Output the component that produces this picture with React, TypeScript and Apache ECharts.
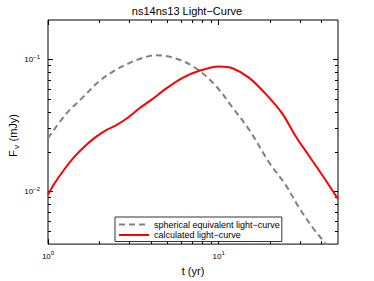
import React, { useEffect, useRef } from "react";
import * as echarts from "echarts";

const FONT = "'Liberation Sans', Arial, Helvetica, sans-serif";

const TITLE = "ns14ns13 Light\u2212Curve";
const X_NAME = "t (yr)";
const Y_NAME_MAIN = "F";
const Y_NAME_SUB = "\u03bd";
const Y_NAME_UNIT = "(mJy)";
const SERIES_NAMES = ["spherical equivalent light\u2212curve", "calculated light\u2212curve"];

const X_MIN = 1;
const X_MAX = 50;
const Y_MIN = 0.004;
const Y_MAX = 0.2;

const X_MAJOR = [1, 10];
const X_MINOR = [2, 3, 4, 5, 6, 7, 8, 9, 20, 30, 40];
const Y_MAJOR = [0.01, 0.1];
const Y_MINOR = [0.005, 0.006, 0.007, 0.008, 0.009, 0.02, 0.03, 0.04, 0.05, 0.06, 0.07, 0.08, 0.09];

// spherical equivalent light-curve (dashed grey)
const tSpherical = [1, 1.28, 1.6, 2.0, 2.5, 3.13, 3.7, 4.29, 5.62, 7.36, 9.63, 12.0, 15.1, 19.7, 24.7, 29.6, 35.4, 41.4, 44.3];
const fSpherical = [0.0254, 0.039, 0.0518, 0.0689, 0.0838, 0.0967, 0.1045, 0.108, 0.102, 0.0862, 0.0632, 0.0437, 0.0294, 0.0167, 0.0112, 0.00753, 0.00537, 0.00416, 0.00365];

// calculated light-curve (solid red)
const tCalc = [1, 1.077, 1.232, 1.443, 1.686, 1.929, 2.207, 2.471, 2.889, 3.461, 4.046, 4.91, 6.14, 7.69, 10.07, 12.05, 15.1, 18.9, 23.6, 28.3, 33.8, 40.5, 50];
const fCalc = [0.00946, 0.01121, 0.01446, 0.01866, 0.02278, 0.02623, 0.02938, 0.03146, 0.0358, 0.0432, 0.0498, 0.0603, 0.0728, 0.0824, 0.0888, 0.0862, 0.0728, 0.0548, 0.039, 0.0262, 0.0187, 0.0133, 0.0088];

const zip = (a: number[], b: number[]) => a.map((v, i) => [v, b[i]]);

const expLabel = (v: number) => {
  const e = Math.round(Math.log10(v));
  const s = e < 0 ? "\u2212" + Math.abs(e) : String(e);
  return `{b|10}{s|${s}}`;
};

const richLbl = {
  b: { fontSize: 8, fontFamily: FONT, color: "#000" },
  s: { fontSize: 6, fontFamily: FONT, color: "#000", padding: [0, 0, 6, 0] },
};

function mkAxis(kind: "x" | "y", pos: string, ticks: number[], len: number, labels: number[] | null, extra: any = {}) {
  return {
    type: "log",
    logBase: 10,
    min: kind === "x" ? X_MIN : Y_MIN,
    max: kind === "x" ? X_MAX : Y_MAX,
    position: pos,
    gridIndex: 0,
    axisLine: { show: false, onZero: false },
    axisTick: { show: true, inside: true, length: len, customValues: ticks, lineStyle: { color: "#000", width: 1 } },
    axisLabel: labels
      ? { show: true, customValues: labels, formatter: expLabel, rich: richLbl, margin: kind === "x" ? 6 : 8 }
      : { show: false },
    splitLine: { show: false },
    minorTick: { show: false },
    ...extra,
  };
}

export default function App() {
  const ref = useRef<HTMLDivElement>(null);
  useEffect(() => {
    if (!ref.current) return;
    const chart = echarts.init(ref.current, null, { renderer: "svg" });
    chart.setOption({
      animation: false,
      backgroundColor: "#fff",
      title: {
        text: TITLE,
        left: "center",
        top: 0,
        padding: [5, 5, 5, 17],
        textStyle: { fontSize: 11, fontWeight: "normal", fontFamily: FONT, color: "#000" },
      },
      grid: {
        left: 48,
        right: 36,
        top: 20,
        bottom: 32,
        show: true,
        borderColor: "#000",
        borderWidth: 1,
        backgroundColor: "transparent",
      },
      graphic: [
        {
          type: "group",
          x: 13,
          y: 136,
          rotation: Math.PI / 2,
          children: [
            {
              type: "text",
              x: -21,
              y: 0,
              style: { text: Y_NAME_MAIN, fontSize: 11, fontFamily: FONT, fill: "#000", align: "left", verticalAlign: "middle" },
            },
            {
              type: "text",
              x: -13,
              y: 3,
              style: { text: Y_NAME_SUB, fontSize: 8, fontFamily: FONT, fill: "#000", align: "left", verticalAlign: "middle" },
            },
            {
              type: "text",
              x: -5.5,
              y: 0,
              style: { text: Y_NAME_UNIT, fontSize: 11, fontFamily: FONT, fill: "#000", align: "left", verticalAlign: "middle" },
            },
          ],
        },
      ],
      legend: {
        orient: "vertical",
        left: 115,
        top: 217,
        padding: [3, 2, 2, 3],
        itemWidth: 30,
        itemHeight: 10,
        itemGap: 1.5,
        borderColor: "#333",
        borderWidth: 1,
        borderRadius: 0,
        backgroundColor: "#fff",
        itemStyle: { opacity: 0 },
        textStyle: { fontSize: 9, fontFamily: FONT, color: "#000" },
        data: SERIES_NAMES,
      },
      xAxis: [
        mkAxis("x", "bottom", X_MAJOR, 5, X_MAJOR, {
          name: X_NAME,
          nameLocation: "middle",
          nameGap: 17,
          nameTextStyle: { fontSize: 11, fontWeight: "normal", fontFamily: FONT, color: "#000" },
        }),
        mkAxis("x", "bottom", X_MINOR, 3, null),
        mkAxis("x", "top", X_MAJOR, 5, null),
        mkAxis("x", "top", X_MINOR, 3, null),
      ],
      yAxis: [
        mkAxis("y", "left", Y_MAJOR, 5, Y_MAJOR),
        mkAxis("y", "left", Y_MINOR, 3, null),
        mkAxis("y", "right", Y_MAJOR, 5, null),
        mkAxis("y", "right", Y_MINOR, 3, null),
      ],
      series: [
        {
          name: SERIES_NAMES[0],
          type: "line",
          xAxisIndex: 0,
          yAxisIndex: 0,
          data: zip(tSpherical, fSpherical),
          symbol: "none",
          showSymbol: false,
          smooth: 0.35,
          clip: true,
          color: "#808080",
          lineStyle: { color: "#808080", width: 2, type: [6, 4] },
          itemStyle: { color: "#808080" },
        },
        {
          name: SERIES_NAMES[1],
          type: "line",
          xAxisIndex: 0,
          yAxisIndex: 0,
          data: zip(tCalc, fCalc),
          symbol: "none",
          showSymbol: false,
          smooth: 0.3,
          clip: true,
          color: "#ff0000",
          lineStyle: { color: "#ff0000", width: 2 },
          itemStyle: { color: "#ff0000" },
          z: 3,
        },
      ],
    });
    return () => chart.dispose();
  }, []);
  return (
    <div
      ref={ref}
      style={{ position: "fixed", left: 0, top: 0, width: 374, height: 281, background: "#fff" }}
    />
  );
}
